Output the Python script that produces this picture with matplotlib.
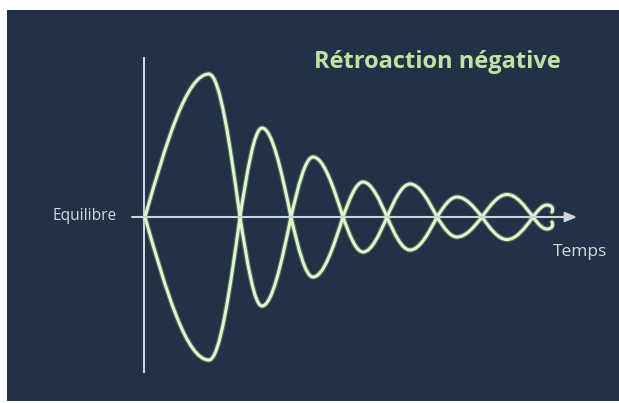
import numpy as np
import matplotlib
matplotlib.use("Agg")
import matplotlib.pyplot as plt
from matplotlib.path import Path
from matplotlib.patches import PathPatch

# ---- data (time units, amplitude units) ----
crossings = [0.0, 9.5, 14.6, 19.8, 24.2, 29.2, 33.7, 38.8]   # zero crossings of the oscillation
peak_times = [6.4, 11.7, 16.8, 21.8, 26.5, 31.2, 36.2, 40.2]  # time of each hump's extreme
amplitudes = [14.3, 8.9, 6.0, 3.5, 3.3, 2.0, 2.25, 1.2]       # size of each hump
end_time = 40.8     # where the final curl stops
end_value = 0.5     # remaining offset at the end of the curl

title = "Rétroaction négative"
y_label = "Equilibre"
x_label = "Temps"

BG = "#213246"
CURVE = "#e2f5cc"
GLOW = "#a9d08a"
AXIS = "#cbd3de"

fig = plt.figure(figsize=(6.19, 4.03), dpi=100, facecolor="white")
ax = fig.add_axes([7 / 619, 2 / 403, 612 / 619, 391 / 403])
ax.set_facecolor(BG)
ax.set_xlim(-13.8, 47.4)
ax.set_ylim(-18.4, 20.7)
ax.axis("off")
ax.add_patch(plt.Rectangle((0, 0), 1, 1, transform=ax.transAxes, color=BG, zorder=0))


def build_path(sign):
    # cubic Bezier approximation of a sine quarter: (0,0)->(1,1)
    verts = [(crossings[0], 0.0)]
    codes = [Path.MOVETO]
    n = len(amplitudes)
    for i in range(n):
        a = crossings[i]
        p = peak_times[i]
        A = amplitudes[i] * sign * (1 if i % 2 == 0 else -1)
        if i + 1 < len(crossings):
            b = crossings[i + 1]
            endy = 0.0
        else:
            b = end_time
            endy = end_value * (1 if A > 0 else -1)
        # rising quarter
        verts += [(a + 0.326 * (p - a), 0.512 * A), (a + 0.6485 * (p - a), A), (p, A)]
        codes += [Path.CURVE4] * 3
        # falling quarter
        if i + 1 < len(crossings):
            verts += [(p + 0.3515 * (b - p), A), (p + 0.674 * (b - p), 0.512 * A), (b, endy)]
        else:
            verts += [(p + 0.6 * (b - p), A), (b + 0.1, (A + endy) / 2 + 0.1 * A), (b - 0.1, endy)]
        codes += [Path.CURVE4] * 3
    return Path(verts, codes)


for s in (1, -1):
    path = build_path(s)
    ax.add_patch(PathPatch(path, facecolor="none", edgecolor=GLOW, lw=3.8, alpha=0.35,
                           capstyle="round", joinstyle="round", zorder=3))
    ax.add_patch(PathPatch(path, facecolor="none", edgecolor=CURVE, lw=2.2,
                           capstyle="round", joinstyle="round", zorder=4))

# axes lines
ax.plot([-0.1, -0.1], [-15.6, 16.0], color=AXIS, lw=1.5, zorder=2, solid_capstyle="butt")
ax.annotate("", xy=(43.2, 0), xytext=(-1.3, 0),
            arrowprops=dict(arrowstyle="-|>,head_length=0.7,head_width=0.3",
                            color=AXIS, lw=1.5, shrinkA=0, shrinkB=0), zorder=5)

ax.text(29.25, 15.5, title, color="#bfe3a5", fontsize=17, fontweight="bold",
        family="Open Sans", ha="center", va="center")
ax.text(-6.0, 0.1, y_label, color="#d3d9e2", fontsize=11.2, family="Open Sans",
        ha="center", va="center")
ax.text(43.5, -3.5, x_label, color="#d3d9e2", fontsize=12.5, family="Open Sans",
        ha="center", va="center")

fig.savefig("out.png", dpi=100, facecolor="white")
